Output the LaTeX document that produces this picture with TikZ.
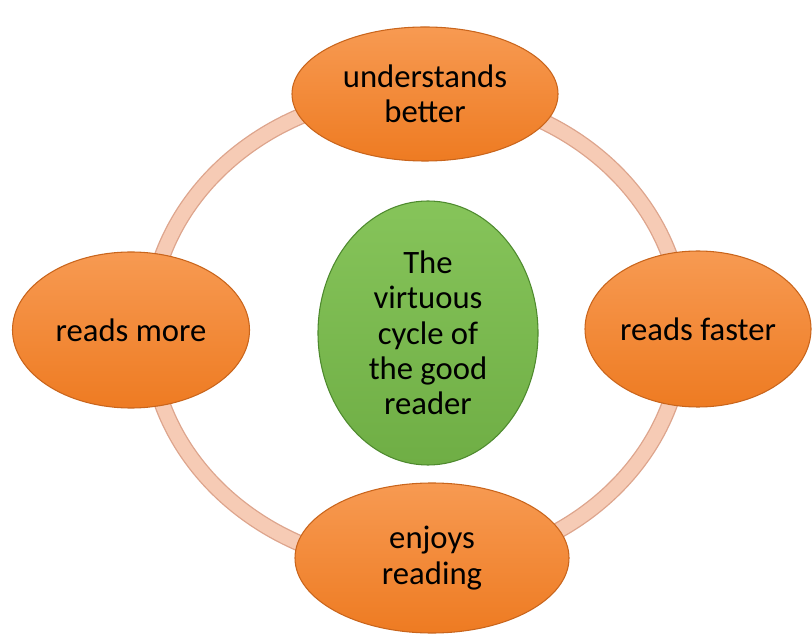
\documentclass[tikz,border=0pt]{standalone}
\usepackage{fontspec}
\setmainfont{Carlito}
\usetikzlibrary{shapes.geometric}
\definecolor{orangetop}{HTML}{F79A52}
\definecolor{orangebot}{HTML}{EE7B22}
\definecolor{orangeedge}{HTML}{C9651C}
\definecolor{greentop}{HTML}{86C45A}
\definecolor{greenbot}{HTML}{6FAE45}
\definecolor{greenedge}{HTML}{4E8A2E}
\definecolor{ringfill}{HTML}{F6CBB5}
\definecolor{ringedge}{HTML}{DDA58D}
\tikzset{
  petal/.style={ellipse, inner sep=0pt, draw=orangeedge, line width=0.8pt,
    top color=orangetop, bottom color=orangebot, align=center,
    font=\fontsize{24.5}{26.5}\selectfont},
  hub/.style={ellipse, inner sep=0pt, draw=greenedge, line width=0.8pt,
    top color=greentop, bottom color=greenbot, align=center,
    font=\fontsize{24.5}{26.5}\selectfont}
}
\begin{document}
\begin{tikzpicture}[x=0.75pt, y=0.75pt]
  \useasboundingbox (0,0) rectangle (812,642);
  % ring behind the nodes
  \draw[ringedge, line width=12.5pt] (416,312) ellipse (267 and 237);
  \draw[ringfill, line width=10.5pt] (416,312) ellipse (267 and 237);
  % outer nodes
  \node[petal, minimum width=199.5pt, minimum height=100.5pt] (better) at (425,548) {understands\\better};
  \node[petal, minimum width=177.75pt, minimum height=117pt] (more) at (131,312) {reads more};
  \node[petal, minimum width=169.5pt, minimum height=117pt] (faster) at (698,313) {reads faster};
  \node[petal, minimum width=205.5pt, minimum height=112.5pt] (enjoys) at (432,84) {enjoys\\reading};
  % centre
  \node[hub, minimum width=165pt, minimum height=198pt] (cycle) at (428,309)
    {The\\virtuous\\cycle of\\the good\\reader};
\end{tikzpicture}
\end{document}
